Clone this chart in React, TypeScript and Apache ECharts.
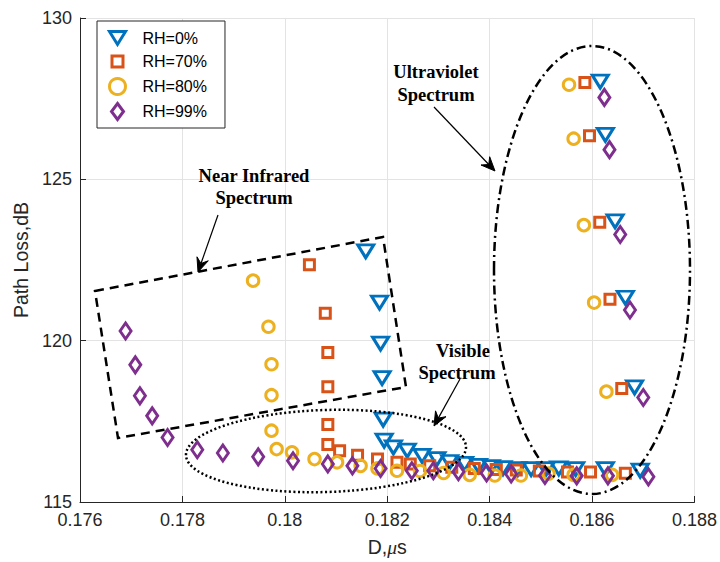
import React, { useEffect, useRef } from "react";
import * as echarts from "echarts";

const seriesNames = ["RH=0%", "RH=70%", "RH=80%", "RH=99%"];
const colors = ["#0072BD", "#D95319", "#EDB120", "#7E2F8E"];

const rh0X = [0.18158, 0.18185, 0.18187, 0.1819, 0.18192, 0.18194, 0.18212, 0.18239, 0.18268, 0.18297, 0.18322, 0.18351, 0.18378, 0.18403, 0.18426, 0.18455, 0.18481, 0.1851, 0.18535, 0.18568, 0.18626, 0.18694, 0.18616, 0.18626, 0.18645, 0.18665, 0.18683];
const rh0Y = [122.77, 121.18, 119.91, 118.84, 117.55, 116.9, 116.69, 116.59, 116.43, 116.33, 116.24, 116.18, 116.12, 116.08, 116.05, 116.02, 116.02, 116.02, 116.04, 116.02, 116.02, 115.97, 128.03, 126.38, 123.7, 121.33, 118.55];

const rh70X = [0.18048, 0.18079, 0.18084, 0.18084, 0.18084, 0.18084, 0.18107, 0.18142, 0.18181, 0.18219, 0.18245, 0.18283, 0.18326, 0.1837, 0.18413, 0.18452, 0.18497, 0.18552, 0.18597, 0.18665, 0.18586, 0.18595, 0.18615, 0.18635, 0.18658];
const rh70Y = [122.35, 120.85, 119.63, 118.57, 117.4, 116.78, 116.59, 116.45, 116.33, 116.23, 116.18, 116.12, 116.08, 116.04, 116.01, 115.99, 115.96, 115.93, 115.93, 115.89, 128.0, 126.35, 123.67, 121.28, 118.52];

const rh80X = [0.17938, 0.17968, 0.17974, 0.17974, 0.17974, 0.17984, 0.18014, 0.18058, 0.18102, 0.18148, 0.18181, 0.18219, 0.18264, 0.1831, 0.18361, 0.1841, 0.18461, 0.18515, 0.18564, 0.18639, 0.18555, 0.18564, 0.18584, 0.18604, 0.18628];
const rh80Y = [121.86, 120.43, 119.27, 118.31, 117.21, 116.64, 116.54, 116.33, 116.23, 116.12, 116.04, 115.97, 115.96, 115.9, 115.84, 115.82, 115.82, 115.88, 115.84, 115.84, 127.93, 126.26, 123.58, 121.18, 118.42];

const rh99X = [0.17689, 0.17708, 0.17717, 0.17741, 0.17771, 0.17829, 0.17879, 0.17948, 0.18016, 0.18084, 0.18132, 0.18187, 0.18248, 0.1829, 0.18339, 0.18394, 0.18442, 0.18508, 0.1857, 0.18631, 0.1871, 0.18624, 0.18634, 0.18655, 0.18674, 0.187];
const rh99Y = [120.3, 119.25, 118.29, 117.67, 117.0, 116.62, 116.52, 116.4, 116.28, 116.18, 116.12, 116.04, 115.97, 115.97, 115.94, 115.9, 115.87, 115.82, 115.81, 115.81, 115.78, 127.54, 125.92, 123.29, 120.95, 118.24];

const xTicks = { min: 0.176, max: 0.188, interval: 0.002 };
const yTicks = { min: 115, max: 130, interval: 5 };

function zip(xs: number[], ys: number[]) {
  return xs.map((x, i) => [x, ys[i]]);
}

function arrow(x1: number, y1: number, x2: number, y2: number) {
  const dx = x2 - x1;
  const dy = y2 - y1;
  const len = Math.sqrt(dx * dx + dy * dy);
  const ux = dx / len;
  const uy = dy / len;
  const nx = -uy;
  const ny = ux;
  const L = 14;
  const W = 6;
  const N = 9;
  return [
    {
      type: "line",
      silent: true,
      z: 100,
      shape: { x1, y1, x2: x2 - ux * N, y2: y2 - uy * N },
      style: { stroke: "#000", lineWidth: 1.2 },
    },
    {
      type: "polygon",
      silent: true,
      z: 100,
      shape: {
        points: [
          [x2, y2],
          [x2 - ux * L + nx * W, y2 - uy * L + ny * W],
          [x2 - ux * N, y2 - uy * N],
          [x2 - ux * L - nx * W, y2 - uy * L - ny * W],
        ],
      },
      style: { fill: "#000", stroke: "#000", lineWidth: 1 },
    },
  ];
}

const labelFont = 'bold 18.5px "Liberation Serif"';

function annotationText(text: string, x: number, y: number) {
  return {
    type: "text",
    silent: true,
    z: 100,
    x,
    y,
    style: {
      text,
      font: labelFont,
      fill: "#000",
      align: "center",
      verticalAlign: "middle",
    },
  };
}

export default function App() {
  const ref = useRef<HTMLDivElement>(null);
  useEffect(() => {
    if (!ref.current) return;
    const chart = echarts.init(ref.current, undefined, { renderer: "svg" });
    const symbols = ["triangle", "rect", "circle", "diamond"];
    const sizes: any[] = [[16, 13], 10, 11.5, [11, 16]];
    const rotates = [180, 0, 0, 0];
    const legendIcons = [
      "path://M0,0L16,0L8,13Z",
      "path://M0,0M16,16M2.5,2.5L13.5,2.5L13.5,13.5L2.5,13.5Z",
      "circle",
      "path://M0,0M16,16M8,0L14,8L8,16L2,8Z",
    ];
    const datasets = [zip(rh0X, rh0Y), zip(rh70X, rh70Y), zip(rh80X, rh80Y), zip(rh99X, rh99Y)];
    const series = seriesNames.map((name, i) => ({
      name,
      type: "scatter",
      data: datasets[i],
      symbol: symbols[i],
      symbolSize: sizes[i],
      symbolRotate: rotates[i],
      itemStyle: {
        color: "rgba(255,255,255,0)",
        borderColor: colors[i],
        borderWidth: 3,
        opacity: 1,
      },
      emphasis: { disabled: true },
    }));

    const graphic: any[] = [
      {
        type: "polygon",
        silent: true,
        z: 90,
        shape: { points: [[95, 291], [383, 237], [406, 387], [118, 438]] },
        style: { fill: "none", stroke: "#000", lineWidth: 2.5, lineDash: [9, 6] },
      },
      {
        type: "ellipse",
        silent: true,
        z: 90,
        x: 326,
        y: 451,
        rotation: 0.03,
        shape: { cx: 0, cy: 0, rx: 140, ry: 41 },
        style: { fill: "none", stroke: "#000", lineWidth: 2.5, lineDash: [2, 2.5] },
      },
      {
        type: "ellipse",
        silent: true,
        z: 90,
        shape: { cx: 592, cy: 270, rx: 98, ry: 224 },
        style: { fill: "none", stroke: "#000", lineWidth: 2.5, lineDash: [9, 4, 2, 4] },
      },
      annotationText("Near Infrared", 254, 176),
      annotationText("Spectrum", 254, 198),
      annotationText("Ultraviolet", 436, 72),
      annotationText("Spectrum", 436, 95),
      annotationText("Visible", 463, 351),
      annotationText("Spectrum", 457, 373),
      ...arrow(218, 215, 198, 272),
      ...arrow(434, 107, 495, 171),
      ...arrow(460, 379, 434, 426),
    ];

    chart.setOption({
      animation: false,
      backgroundColor: "#fff",
      grid: { left: 80, right: 20, top: 18, bottom: 59, containLabel: false },
      legend: {
        orient: "vertical",
        left: 97,
        top: 21,
        padding: [9, 18, 7, 11],
        itemGap: 6,
        itemWidth: 16,
        itemHeight: 16,
        symbolKeepAspect: true,
        borderColor: "#262626",
        borderWidth: 1,
        backgroundColor: "#fff",
        itemStyle: { borderWidth: 3 },
        textStyle: { fontSize: 16, fontFamily: "Liberation Sans", color: "#000", padding: [0, 0, 0, 12] },
        data: seriesNames.map((name, i) => ({ name, icon: legendIcons[i] })),
        selectedMode: false,
      },
      xAxis: {
        type: "value",
        min: xTicks.min,
        max: xTicks.max,
        interval: xTicks.interval,
        name: "D,{i|μ}s",
        nameLocation: "middle",
        nameGap: 35,
        nameTextStyle: {
          fontSize: 19.5,
          fontFamily: "Liberation Sans",
          color: "#262626",
          rich: { i: { fontSize: 19.5, fontFamily: "Liberation Serif", fontStyle: "italic", color: "#262626" } },
        },
        axisLine: { lineStyle: { color: "#262626", width: 1 } },
        axisTick: { inside: true, length: 6, lineStyle: { color: "#262626" } },
        axisLabel: {
          fontSize: 18,
          fontFamily: "Liberation Sans",
          color: "#262626",
          margin: 9,
          formatter: (v: number) => String(Number(v.toFixed(3))),
        },
        splitLine: { show: true, lineStyle: { color: "#e3e3e3", width: 1 } },
      },
      yAxis: {
        type: "value",
        min: yTicks.min,
        max: yTicks.max,
        interval: yTicks.interval,
        name: "Path Loss,dB",
        nameLocation: "middle",
        nameGap: 48,
        nameTextStyle: { fontSize: 19.5, fontFamily: "Liberation Sans", color: "#262626" },
        axisLine: { show: true, lineStyle: { color: "#262626", width: 1 } },
        axisTick: { show: true, inside: true, length: 6, lineStyle: { color: "#262626" } },
        axisLabel: { fontSize: 18, fontFamily: "Liberation Sans", color: "#262626", margin: 8 },
        splitLine: { show: true, lineStyle: { color: "#e3e3e3", width: 1 } },
      },
      series,
      graphic,
    });
    return () => chart.dispose();
  }, []);
  return (
    <div
      ref={ref}
      style={{ position: "absolute", left: 0, top: 0, width: 720, height: 562, background: "#fff" }}
    />
  );
}
